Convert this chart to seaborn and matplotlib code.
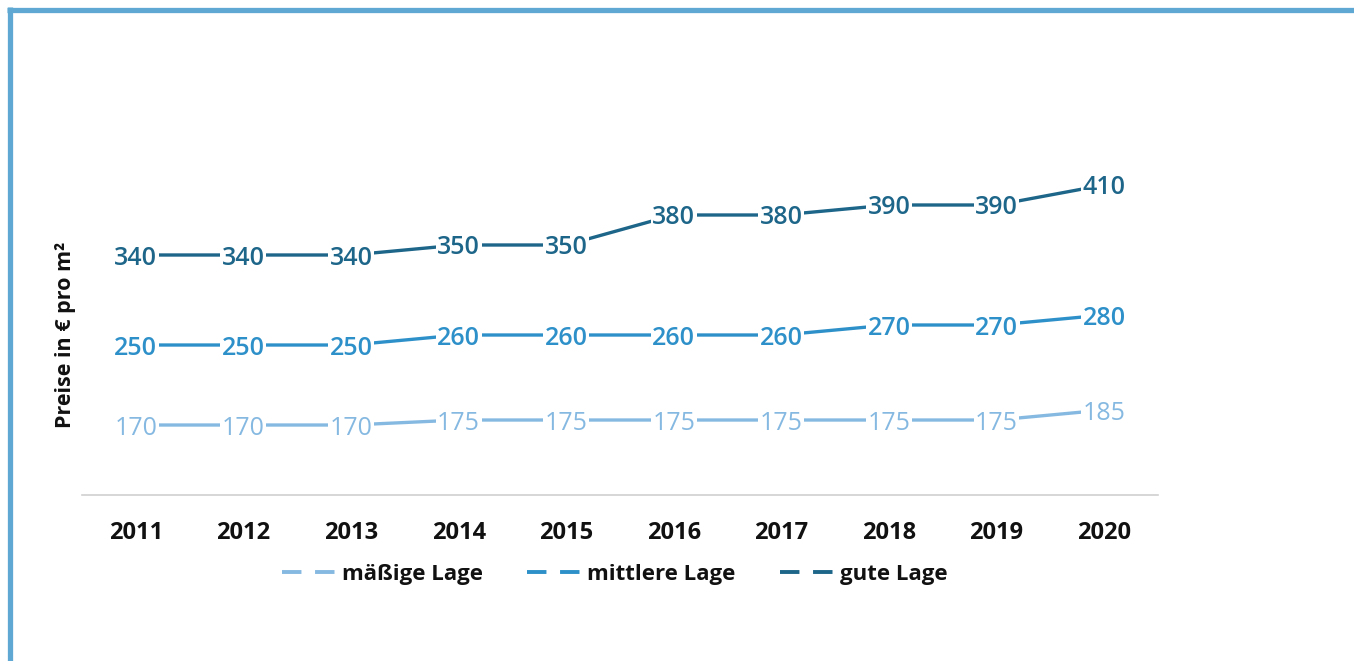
import matplotlib
matplotlib.use("Agg")
import matplotlib.pyplot as plt
from matplotlib.lines import Line2D
import seaborn as sns
import pandas as pd

years = ["2011", "2012", "2013", "2014", "2015", "2016", "2017", "2018", "2019", "2020"]
series_names = ["mäßige Lage", "mittlere Lage", "gute Lage"]
maessig = [170, 170, 170, 175, 175, 175, 175, 175, 175, 185]
mittel = [250, 250, 250, 260, 260, 260, 260, 270, 270, 280]
gut = [340, 340, 340, 350, 350, 380, 380, 390, 390, 410]
colors = ["#86b9e1", "#2e90c9", "#1d6589"]

sns.set_theme(style="white")
plt.rcParams['font.family'] = ['Open Sans', 'DejaVu Sans']

rows = []
for name, vals in zip(series_names, [maessig, mittel, gut]):
    for i, (y, v) in enumerate(zip(years, vals)):
        rows.append({"idx": i, "Jahr": y, "Serie": name, "Wert": v})
df = pd.DataFrame(rows)

fig = plt.figure(figsize=(13.54, 6.61), dpi=100)
ax = fig.add_axes([0.0606, 0.2511, 0.7946, 0.6052])

sns.lineplot(data=df, x="idx", y="Wert", hue="Serie", hue_order=series_names,
             palette=colors, linewidth=2.4, ax=ax, legend=False, sort=False)

for name, vals, c in zip(series_names, [maessig, mittel, gut], colors):
    weight = "normal" if name == "mäßige Lage" else "semibold"
    for i, v in enumerate(vals):
        ax.text(i, v, str(v), ha="center", va="center_baseline", fontsize=18,
                color=c, fontweight=weight, zorder=5,
                bbox=dict(boxstyle="square,pad=0.06", fc="white", ec="none"))

ax.set_xlim(-0.5, 9.5)
ax.set_ylim(100, 500)
ax.set_xticks(range(len(years)))
ax.set_xticklabels(years, fontsize=17, fontweight="bold", color="#111111")
ax.set_yticks([])
ax.tick_params(axis="x", length=0, pad=19)
for s in ["top", "right", "left"]:
    ax.spines[s].set_visible(False)
ax.spines["bottom"].set_color("#d0d0d0")
ax.spines["bottom"].set_linewidth(1.2)
ax.set_xlabel("")
ax.set_ylabel("Preise in € pro m²", fontsize=15.5, fontweight="bold", color="#111111")
ax.yaxis.set_label_coords(-0.006, 0.4)

handles = [Line2D([0], [0], color=c, linewidth=2.8, linestyle=(0, (5, 3.5))) for c in colors]
leg = ax.legend(handles, series_names, loc="center", bbox_to_anchor=(0.495, -0.1975),
                ncol=3, frameon=False, handlelength=2.6, handletextpad=0.1,
                columnspacing=2.0, prop={"weight": "bold", "size": 16})
for t in leg.get_texts():
    t.set_color("#111111")

# blue frame (top and left)
fig.add_artist(Line2D([7 / 1354, 1.0], [1 - 9.5 / 661, 1 - 9.5 / 661], transform=fig.transFigure,
                      color="#5fa8d3", linewidth=3.8, solid_capstyle="butt"))
fig.add_artist(Line2D([9.5 / 1354, 9.5 / 1354], [0, 1 - 7 / 661], transform=fig.transFigure,
                      color="#5fa8d3", linewidth=3.8, solid_capstyle="butt"))

fig.savefig("out.png", dpi=100, facecolor="white")
